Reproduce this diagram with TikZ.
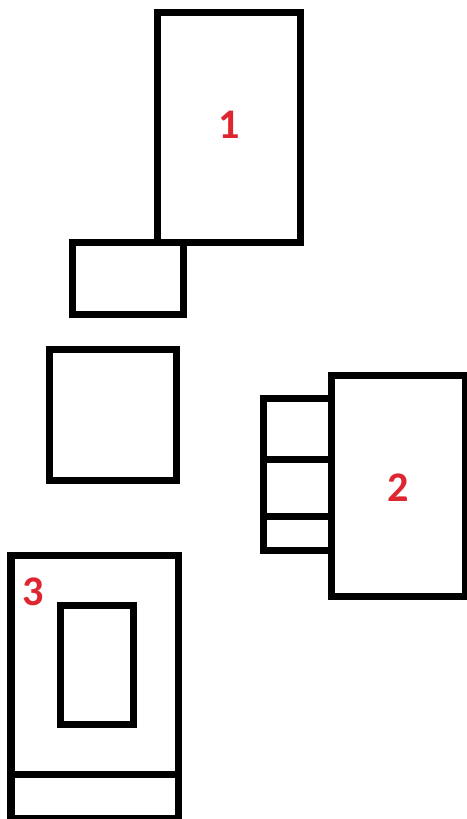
\documentclass[tikz,border=0pt]{standalone}
\usepackage{fontspec}
\setsansfont{Carlito}
\usepackage{xcolor}
\usepackage{tikz}
\usetikzlibrary{positioning}
\definecolor{numred}{RGB}{222, 38, 48}
\tikzset{
  part/.style = {draw=black, line width=0.21cm},
  numlbl/.style = {
    text=numred, inner sep=0pt,
    font=\sffamily\bfseries\fontsize{36}{36}\selectfont
  },
}

\begin{document}
\begin{tikzpicture}[x=0.03cm, y=-0.03cm]

  \useasboundingbox[fill=white] (0,0) rectangle (466,819);

  %% -- block 1 and its foot --------------------------------------------
  \draw[part] (157,13) rectangle (300.5,242.5);
  \draw[part] (72.5,242.5) rectangle (183,314.5);
  \node[numlbl] (one) at (229,125) {1};

  %% -- loose square ----------------------------------------------------
  \draw[part] (49.5,349.5) rectangle (176.5,480.5);

  %% -- block 2 with three tabs ------------------------------------------
  \draw[part] (331,375) rectangle (465,596.5);
  \draw[part] (263.5,398) rectangle (331,459);
  \draw[part] (263.5,459) rectangle (331,516.7);
  \draw[part] (263.5,516.7) rectangle (331,550.5);
  \node[numlbl] (two) at (397.7,488) {2};

  %% -- block 3 ------------------------------------------------------------
  \draw[part] (11,555) rectangle (178,818.5);
  \draw[part] (11,774.7) -- (178,774.7);
  \draw[part] (60,605) rectangle (133,724);
  \node[numlbl] (three) at (33,591.7) {3};

\end{tikzpicture}
\end{document}
